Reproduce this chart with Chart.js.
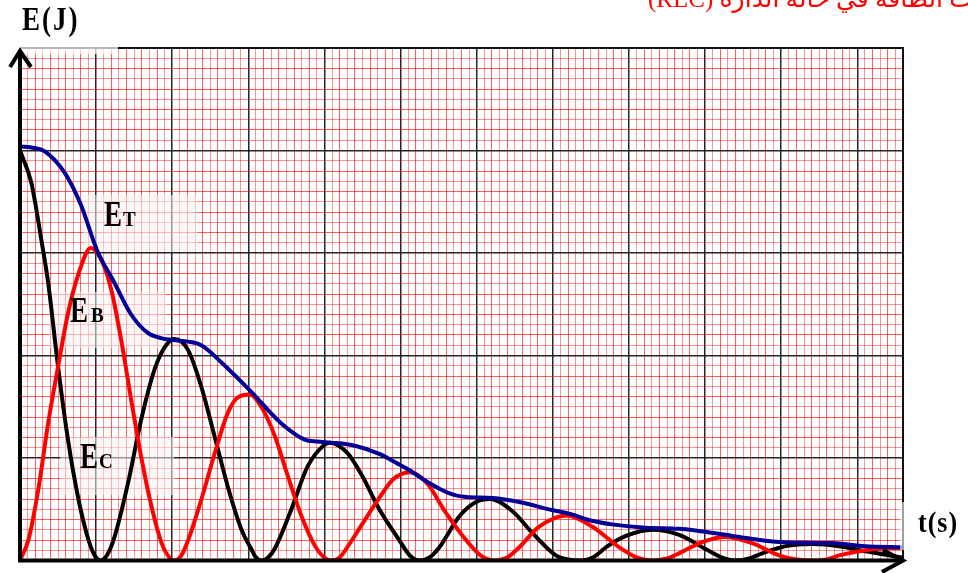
<!DOCTYPE html>
<html>
<head>
<meta charset="utf-8">
<script src="https://cdn.jsdelivr.net/npm/chart.js@4.4.1/dist/chart.umd.min.js"></script>
<style>
  html, body { margin: 0; padding: 0; background: #fff; }
  #wrap { position: relative; width: 968px; height: 573px; }
</style>
</head>
<body>
<div id="wrap"><canvas id="energyChart"></canvas></div>
<script>
// temps et énergies en divisions du papier millimétré
const titleText = 'تغيرات الطاقة في حالة الدارة (RLC)';
const axisLabelY = 'E(J)';
const axisLabelX = 't(s)';

// E_T : énergie totale (bleu)
const tTotal = [0, 0.15, 0.33, 0.59, 0.80, 1.01, 1.24, 1.46, 1.68, 1.85, 2.02, 2.38, 2.65, 3.02, 3.43, 3.74, 3.90, 4.09,
  4.40, 4.72, 4.95, 5.12, 5.30, 5.51, 5.70, 5.86, 6.21, 6.56, 7.00, 7.20, 7.50, 7.80, 8.22, 8.66, 9.00, 9.36, 9.97,
  10.67, 11.10, 11.59];
const eTotal = [4.04, 4.03, 3.99, 3.78, 3.47, 3.03, 2.71, 2.40, 2.22, 2.17, 2.15, 2.10, 1.93, 1.66, 1.34, 1.18, 1.16, 1.15,
  1.12, 1.04, 0.95, 0.88, 0.79, 0.70, 0.64, 0.62, 0.61, 0.57, 0.49, 0.46, 0.39, 0.35, 0.32, 0.31, 0.28, 0.24, 0.18,
  0.17, 0.14, 0.13];

// E_C : énergie du condensateur (noir)
const tCond = [0, 0.15, 0.28, 0.37, 0.50, 0.63, 0.77, 0.90, 0.98, 1.06, 1.15, 1.25, 1.42, 1.60, 1.77, 1.90, 2.03, 2.21,
  2.38, 2.56, 2.73, 2.91, 3.04, 3.09, 3.17, 3.26, 3.35, 3.56, 3.78, 4.00, 4.07, 4.30, 4.50, 4.72, 4.99, 5.12, 5.25, 5.38,
  5.51, 5.77, 5.99, 6.17, 6.47, 6.73, 7.04, 7.20, 7.35, 7.55, 7.70, 7.96, 8.31, 8.66, 9.06, 9.25, 9.41, 9.58, 9.75,
  10.06, 10.41, 10.76, 11.11, 11.59];
const eCond = [4.00, 3.68, 3.13, 2.71, 1.89, 1.18, 0.59, 0.20, 0.05, 0, 0.06, 0.25, 0.76, 1.40, 1.87, 2.08, 2.16, 2.05,
  1.70, 1.20, 0.72, 0.30, 0.11, 0.04, 0, 0.03, 0.12, 0.49, 0.92, 1.13, 1.15, 1.05, 0.82, 0.50, 0.19, 0.05, 0, 0.03,
  0.13, 0.43, 0.57, 0.60, 0.48, 0.27, 0.05, 0.01, 0, 0.04, 0.13, 0.24, 0.30, 0.25, 0.09, 0.02, 0, 0.02, 0.07,
  0.14, 0.16, 0.14, 0.09, 0.03];

// E_B : énergie de la bobine (rouge)
const tCoil = [0, 0.11, 0.24, 0.37, 0.50, 0.63, 0.77, 0.93, 1.07, 1.20, 1.33, 1.46, 1.60, 1.73, 1.86, 1.95, 2.03, 2.12,
  2.21, 2.38, 2.56, 2.73, 2.86, 3.02, 3.17, 3.35, 3.52, 3.70, 3.87, 3.98, 4.09, 4.20, 4.30, 4.50, 4.72, 4.90, 5.12, 5.34,
  5.60, 5.86, 6.05, 6.23, 6.40, 6.56, 6.82, 7.18, 7.52, 7.87, 8.10, 8.31, 8.50, 8.66, 8.96, 9.27, 9.62, 9.97, 10.20,
  10.41, 10.60, 10.76, 11.11, 11.59];
const eCoil = [0, 0.20, 0.69, 1.34, 1.89, 2.41, 2.80, 3.05, 2.93, 2.64, 2.15, 1.57, 0.98, 0.52, 0.17, 0.04, 0, 0.05,
  0.20, 0.59, 1.05, 1.44, 1.59, 1.62, 1.50, 1.21, 0.82, 0.43, 0.15, 0.04, 0, 0.03, 0.13, 0.36, 0.61, 0.79, 0.86, 0.76,
  0.46, 0.20, 0.05, 0, 0.03, 0.13, 0.33, 0.44, 0.33, 0.13, 0.03, 0, 0.02, 0.07, 0.18, 0.23, 0.17, 0.05, 0.01,
  0, 0.01, 0.05, 0.10, 0.125];

const tMax = 11.6;
const eMax = 5;
const minorStep = 0.1;

function toPoints(ts, es) {
  return ts.map((t, i) => ({ x: t, y: es[i] }));
}

const isMajor = v => Math.abs(v - Math.round(v)) < 1e-6;

// papier millimétré : traits noirs aux divisions, rouges pour les sous-divisions
function gridColor(c) {
  const v = c.tick.value;
  if (isMajor(v)) return 'rgba(0,0,0,0.85)';
  return Math.round(v * 10) % 2 ? 'rgba(255,0,0,0.42)' : 'rgba(255,0,0,0.62)';
}
function gridWidth(c) {
  return isMajor(c.tick.value) ? 1.5 : 1;
}

// texte étiré verticalement comme sur le scan
function stretchedText(ctx, txt, x, y, size, sy) {
  ctx.save();
  ctx.font = 'bold ' + size + 'px "Liberation Serif", serif';
  ctx.translate(x, y);
  ctx.scale(1, sy);
  ctx.fillText(txt, 0, 0);
  ctx.restore();
}

const paperPlugin = {
  id: 'paper',
  beforeDatasetsDraw(chart) {
    const ctx = chart.ctx;
    ctx.save();
    ctx.fillStyle = 'rgba(244,240,240,0.55)';
    ctx.fillRect(83, 195, 114, 57);   // E_T
    ctx.fillRect(50, 292, 116, 56);   // E_B
    ctx.fillRect(60, 437, 114, 58);   // E_C
    ctx.restore();
  },
  afterDraw(chart) {
    const ctx = chart.ctx;
    const xs = chart.scales.x, ys = chart.scales.y;
    const x0 = xs.getPixelForValue(0), x1 = xs.getPixelForValue(tMax);
    const y0 = ys.getPixelForValue(0), y1 = ys.getPixelForValue(eMax);
    ctx.save();

    // cadre haut et droit
    ctx.strokeStyle = '#111';
    ctx.lineWidth = 2;
    ctx.beginPath();
    ctx.moveTo(x0, y1); ctx.lineTo(x1, y1); ctx.lineTo(x1, y0);
    ctx.stroke();

    // zones délavées du scan
    ctx.fillStyle = 'rgba(255,255,255,0.7)';
    ctx.fillRect(12, 40, 106, 14);
    ctx.fillStyle = 'rgba(255,255,255,0.6)';
    ctx.fillRect(900, 502, 68, 48);

    // axes et flèches
    ctx.strokeStyle = '#000';
    ctx.lineWidth = 4;
    ctx.lineJoin = 'miter';
    ctx.beginPath();
    ctx.moveTo(x0, y0 + 2); ctx.lineTo(x0, 51);
    ctx.moveTo(x0 - 2, y0); ctx.lineTo(x1, y0);
    ctx.stroke();
    ctx.beginPath();
    ctx.moveTo(10, 67); ctx.lineTo(x0, 51); ctx.lineTo(31, 67);
    ctx.stroke();
    ctx.beginPath();
    ctx.moveTo(883, 550); ctx.lineTo(x1, y0); ctx.lineTo(882, 572);
    ctx.stroke();

    // titre (coupé en haut)
    ctx.fillStyle = '#ff0000';
    ctx.font = '25px "Liberation Serif", "DejaVu Sans", serif';
    ctx.direction = 'rtl';
    ctx.textAlign = 'left';
    ctx.textBaseline = 'alphabetic';
    ctx.fillText(titleText, 648, 7);
    ctx.direction = 'ltr';

    // étiquettes
    ctx.fillStyle = '#000';
    ctx.letterSpacing = '2px';
    stretchedText(ctx, axisLabelY, 22, 30, 27, 1.25);
    ctx.letterSpacing = '1px';
    stretchedText(ctx, axisLabelX, 918, 532, 26, 1.15);
    ctx.letterSpacing = '0px';
    stretchedText(ctx, 'E', 104, 226, 27, 1.3);
    stretchedText(ctx, 'T', 123, 226, 19, 1.1);
    stretchedText(ctx, 'E', 70, 322, 27, 1.3);
    stretchedText(ctx, 'B', 91, 322, 19, 1.1);
    stretchedText(ctx, 'E', 80, 468, 27, 1.3);
    stretchedText(ctx, 'C', 99, 468, 19, 1.1);
    ctx.restore();
  }
};

const ctx = document.getElementById('energyChart').getContext('2d');

const energyChart = new Chart(ctx, {
  type: 'line',
  data: {
    datasets: [
      { label: 'E_T', data: toPoints(tTotal, eTotal), borderColor: '#000096', borderWidth: 4 },
      { label: 'E_B', data: toPoints(tCoil, eCoil), borderColor: '#ff0000', borderWidth: 4 },
      { label: 'E_C', data: toPoints(tCond, eCond), borderColor: '#000000', borderWidth: 4 }
    ]
  },
  options: {
    responsive: true,
    maintainAspectRatio: false,
    animation: false,
    layout: { padding: { left: 20, top: 48, right: 65, bottom: 12.5 } },
    elements: {
      point: { radius: 0 },
      line: { cubicInterpolationMode: 'monotone', fill: false }
    },
    plugins: { legend: { display: false }, tooltip: { enabled: false } },
    scales: {
      x: {
        type: 'linear', min: 0, max: tMax,
        ticks: { display: false, stepSize: minorStep, autoSkip: false },
        grid: { drawTicks: false, color: gridColor, lineWidth: gridWidth },
        border: { display: false }
      },
      y: {
        type: 'linear', min: 0, max: eMax,
        ticks: { display: false, stepSize: minorStep, autoSkip: false },
        grid: { drawTicks: false, color: gridColor, lineWidth: gridWidth },
        border: { display: false }
      }
    }
  },
  plugins: [paperPlugin]
});
</script>
</body>
</html>
